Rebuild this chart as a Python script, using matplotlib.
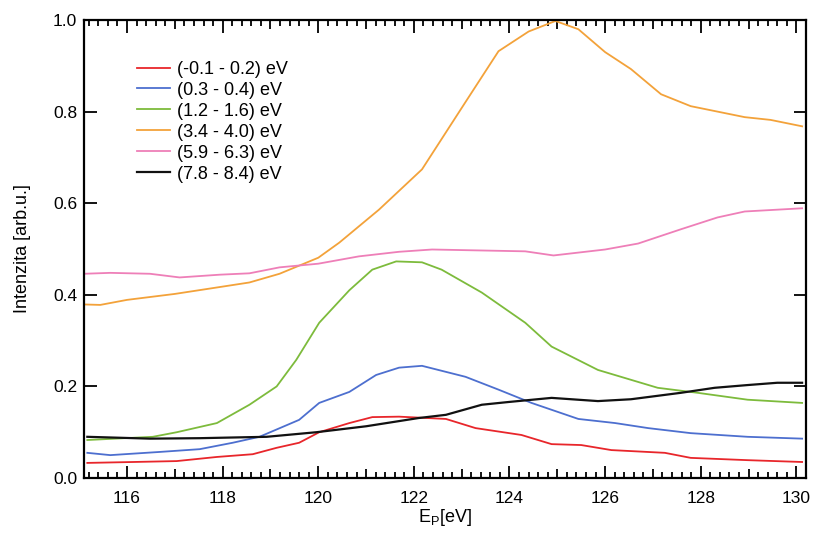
import numpy as np
import matplotlib
matplotlib.use("Agg")
import matplotlib.pyplot as plt

plt.rcParams['font.family'] = ['Liberation Sans', 'DejaVu Sans']

# --- spectra (photon energy in eV, normalised intensity) ---
red_x = [115.17, 116.13, 117.04, 117.88, 118.63, 119.13, 119.6, 120.02, 120.65, 121.13,
         121.69, 122.67, 123.29, 124.25, 124.88, 125.5, 126.13, 127.25, 127.79, 128.98, 130.12]
red_y = [0.033, 0.035, 0.037, 0.046, 0.052, 0.066, 0.077, 0.100, 0.120, 0.133,
         0.134, 0.129, 0.109, 0.094, 0.074, 0.072, 0.061, 0.055, 0.044, 0.039, 0.035]

blue_x = [115.17, 115.65, 116.69, 117.52, 118.21, 118.77, 119.6, 120.02, 120.65, 121.21,
          121.69, 122.17, 123.08, 123.77, 124.46, 125.44, 126.21, 126.9, 127.79, 128.98, 130.12]
blue_y = [0.055, 0.050, 0.057, 0.063, 0.077, 0.090, 0.127, 0.164, 0.188, 0.225,
          0.241, 0.245, 0.221, 0.193, 0.164, 0.129, 0.120, 0.109, 0.098, 0.090, 0.086]

green_x = [115.17, 116.54, 117.04, 117.88, 118.56, 119.13, 119.54, 120.02, 120.65, 121.13,
           121.63, 122.17, 122.58, 123.42, 124.33, 124.88, 125.85, 127.1, 127.94, 128.98, 130.12]
green_y = [0.083, 0.090, 0.100, 0.120, 0.160, 0.200, 0.258, 0.339, 0.410, 0.455,
           0.473, 0.471, 0.455, 0.405, 0.339, 0.287, 0.236, 0.197, 0.186, 0.171, 0.164]

orange_x = [115.10, 115.44, 116.0, 117.0, 118.0, 118.56, 119.19, 120.0, 120.44, 121.27,
            122.17, 123.08, 123.77, 124.4, 124.96, 125.44, 126.0, 126.54, 127.17, 127.79,
            128.92, 129.46, 130.12]
orange_y = [0.379, 0.378, 0.389, 0.402, 0.418, 0.427, 0.446, 0.481, 0.514, 0.586,
            0.674, 0.821, 0.932, 0.975, 0.998, 0.980, 0.930, 0.893, 0.838, 0.812,
            0.788, 0.782, 0.768]

pink_x = [115.10, 115.65, 116.48, 117.1, 117.94, 118.56, 119.19, 120.0, 120.85, 121.69,
          122.38, 123.35, 124.33, 124.92, 126.0, 126.69, 127.58, 128.35, 128.92, 130.12]
pink_y = [0.446, 0.448, 0.446, 0.438, 0.444, 0.447, 0.460, 0.468, 0.484, 0.494,
          0.499, 0.497, 0.495, 0.486, 0.499, 0.512, 0.543, 0.569, 0.582, 0.589]

black_x = [115.17, 116.48, 117.52, 118.92, 119.96, 121.0, 122.1, 122.67, 123.42, 123.98,
           124.88, 125.85, 126.54, 127.58, 128.29, 128.98, 129.6, 130.12]
black_y = [0.090, 0.086, 0.087, 0.090, 0.100, 0.113, 0.131, 0.138, 0.160, 0.166,
           0.175, 0.168, 0.172, 0.186, 0.197, 0.203, 0.208, 0.208]

labels = ["(-0.1 - 0.2) eV", "(0.3 - 0.4) eV", "(1.2 - 1.6) eV",
          "(3.4 - 4.0) eV", "(5.9 - 6.3) eV", "(7.8 - 8.4) eV"]
colors = ["#e8262b", "#4d6fcf", "#7dbb3c", "#f3a23a", "#ee7fb8", "#111111"]
series = [(red_x, red_y), (blue_x, blue_y), (green_x, green_y),
          (orange_x, orange_y), (pink_x, pink_y), (black_x, black_y)]

fig = plt.figure(figsize=(8.13, 5.35), dpi=100)
ax = fig.add_axes([0.1033, 0.1065, 0.888, 0.856])

for (xs, ys), c, lab in zip(series, colors, labels):
    lw = 1.6 if c == "#111111" else 1.3
    ax.plot(xs, ys, color=c, lw=lw, label=lab)

ax.set_xlim(115.1, 130.2)
ax.set_ylim(0.0, 1.0)

# x ticks: every 1 eV, labels on even values, minor every 0.2 eV
xt = np.arange(116, 131, 1)
ax.set_xticks(xt)
ax.set_xticklabels([str(v) if v % 2 == 0 else "" for v in xt])
ax.set_xticks(np.arange(115.2, 130.2, 0.2), minor=True)
ax.set_yticks([0.0, 0.2, 0.4, 0.6, 0.8, 1.0])
ax.set_yticklabels(["0.0", "0.2", "0.4", "0.6", "0.8", "1.0"])

ax.tick_params(axis='both', which='both', direction='in', top=True, right=True,
               width=1.3, labelsize=12.5, colors='black')
ax.tick_params(axis='x', which='major', length=9, pad=9)
ax.tick_params(axis='x', which='minor', length=4)
ax.tick_params(axis='y', which='major', length=9, pad=5)
for v, t in zip(xt, ax.xaxis.get_major_ticks()):
    if v % 2:
        t.tick1line.set_markersize(6.5)
        t.tick2line.set_markersize(6.5)

for s in ax.spines.values():
    s.set_linewidth(1.6)

ax.set_xlabel("E$_\\mathregular{P}$[eV]", fontsize=13, labelpad=1)
ax.set_ylabel("Intenzita [arb.u.]", fontsize=13, labelpad=16)

ax.legend(loc='upper left', bbox_to_anchor=(0.073, 0.911), frameon=False,
          fontsize=13, handlelength=1.85, handletextpad=0.4, labelspacing=0.22,
          borderpad=0, borderaxespad=0)

fig.savefig("out.png", dpi=100)
